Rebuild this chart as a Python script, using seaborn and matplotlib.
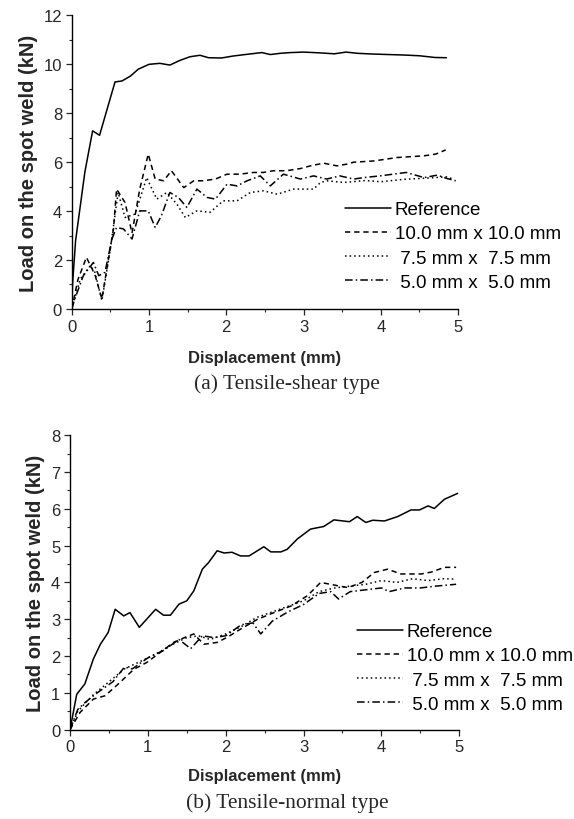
import numpy as np
import pandas as pd
import matplotlib
matplotlib.use("Agg")
import matplotlib.pyplot as plt
import seaborn as sns
from matplotlib.ticker import MultipleLocator

# ---------------- data: (a) tensile-shear ----------------
a_ref_x = [0, 0.01, 0.05, 0.11, 0.17, 0.27, 0.36, 0.56, 0.65, 0.76, 0.86, 1.0, 1.14, 1.27, 1.40, 1.53,
           1.66, 1.77, 1.94, 2.09, 2.27, 2.46, 2.57, 2.70, 2.83, 3.0, 3.2, 3.4, 3.55, 3.7, 3.9, 4.1,
           4.3, 4.5, 4.7, 4.85]
a_ref_y = [0, 1.0, 2.8, 4.2, 5.6, 7.28, 7.1, 9.28, 9.32, 9.52, 9.8, 10.0, 10.04, 9.97, 10.16, 10.31,
           10.37, 10.27, 10.26, 10.34, 10.41, 10.48, 10.4, 10.45, 10.48, 10.5, 10.47, 10.43, 10.5, 10.45,
           10.42, 10.4, 10.38, 10.35, 10.28, 10.27]

a_10_x = [0, 0.08, 0.19, 0.3, 0.39, 0.54, 0.58, 0.69, 0.78, 0.88, 0.99, 1.08, 1.19, 1.29, 1.45, 1.58,
          1.70, 1.86, 2.01, 2.18, 2.35, 2.48, 2.61, 2.78, 2.96, 3.09, 3.26, 3.43, 3.56, 3.65, 3.91,
          4.21, 4.56, 4.71, 4.84]
a_10_y = [0, 1.2, 2.11, 1.4, 0.41, 3.27, 4.9, 4.35, 3.1, 4.9, 6.33, 5.31, 5.24, 5.65, 4.96, 5.24,
          5.24, 5.31, 5.51, 5.51, 5.58, 5.58, 5.65, 5.65, 5.74, 5.85, 5.96, 5.85, 5.92, 6.0, 6.05,
          6.19, 6.26, 6.33, 6.5]

a_75_x = [0, 0.11, 0.24, 0.30, 0.39, 0.50, 0.60, 0.69, 0.82, 0.97, 1.10, 1.23, 1.36, 1.47, 1.62,
          1.79, 1.96, 2.14, 2.31, 2.48, 2.66, 2.87, 3.13, 3.22, 3.30, 3.52, 3.8, 4.0, 4.3, 4.6,
          4.85, 4.95]
a_75_y = [0, 1.22, 1.77, 1.50, 0.34, 2.45, 4.76, 3.74, 3.88, 5.37, 4.49, 4.76, 4.29, 3.74, 4.01,
          3.95, 4.42, 4.42, 4.76, 4.83, 4.69, 4.9, 4.9, 5.17, 5.24, 5.17, 5.25, 5.2, 5.3, 5.35,
          5.4, 5.3]

a_5_x = [0, 0.04, 0.15, 0.28, 0.35, 0.43, 0.52, 0.58, 0.67, 0.78, 0.88, 0.99, 1.08, 1.16, 1.27,
         1.38, 1.49, 1.62, 1.75, 1.86, 2.01, 2.14, 2.27, 2.44, 2.57, 2.74, 2.96, 3.13, 3.30, 3.47,
         3.65, 3.78, 3.99, 4.33, 4.56, 4.73, 4.86, 4.97]
a_5_y = [0, 0.41, 1.36, 1.9, 1.36, 1.5, 2.86, 3.33, 3.27, 2.86, 4.01, 4.01, 3.33, 3.81, 4.76,
         4.56, 4.15, 4.9, 4.56, 4.49, 5.1, 5.03, 5.24, 5.44, 5.03, 5.51, 5.31, 5.44, 5.31, 5.44,
         5.31, 5.37, 5.44, 5.58, 5.37, 5.47, 5.33, 5.24]

# ---------------- data: (b) tensile-normal ----------------
b_ref_x = [0, 0.086, 0.19, 0.30, 0.39, 0.49, 0.58, 0.69, 0.77, 0.89, 1.10, 1.20, 1.29, 1.40, 1.50,
           1.59, 1.70, 1.78, 1.89, 1.98, 2.08, 2.19, 2.30, 2.49, 2.58, 2.71, 2.79, 2.92, 3.09, 3.26,
           3.39, 3.59, 3.69, 3.80, 3.89, 4.04, 4.21, 4.38, 4.49, 4.60, 4.68, 4.81, 4.98]
b_ref_y = [0, 0.96, 1.24, 1.92, 2.32, 2.64, 3.27, 3.09, 3.18, 2.78, 3.27, 3.11, 3.11, 3.41, 3.50,
           3.77, 4.36, 4.54, 4.86, 4.80, 4.82, 4.72, 4.72, 4.97, 4.83, 4.83, 4.9, 5.18, 5.45, 5.52,
           5.70, 5.65, 5.79, 5.63, 5.69, 5.67, 5.79, 5.97, 5.97, 6.08, 6.01, 6.26, 6.42]

b_10_x = [0, 0.13, 0.30, 0.45, 0.62, 0.82, 0.99, 1.16, 1.33, 1.48, 1.59, 1.72, 1.89, 2.02, 2.19,
          2.41, 2.62, 2.84, 3.05, 3.22, 3.44, 3.57, 3.75, 3.91, 4.08, 4.25, 4.51, 4.64, 4.81, 4.96]
b_10_y = [0, 0.47, 0.83, 0.92, 1.24, 1.64, 1.83, 2.10, 2.37, 2.51, 2.60, 2.32, 2.37, 2.51, 2.73,
          3.0, 3.18, 3.36, 3.64, 4.0, 3.91, 3.86, 4.0, 4.27, 4.36, 4.23, 4.23, 4.28, 4.41, 4.41]

b_75_x = [0, 0.1, 0.3, 0.5, 0.7, 0.9, 1.1, 1.3, 1.5, 1.65, 1.8, 2.0, 2.2, 2.4, 2.6, 2.8, 3.0,
          3.2, 3.4, 3.6, 3.8, 4.0, 4.2, 4.4, 4.6, 4.8, 4.96]
b_75_y = [0, 0.5, 0.95, 1.3, 1.65, 1.85, 2.05, 2.3, 2.5, 2.55, 2.45, 2.6, 2.8, 3.05, 3.2, 3.35, 3.5,
          3.75, 3.85, 3.9, 3.95, 4.05, 4.0, 4.1, 4.05, 4.1, 4.09]

b_5_x = [0, 0.1, 0.2, 0.35, 0.55, 0.7, 0.8, 1.0, 1.2, 1.4, 1.55, 1.7, 1.85, 2.0, 2.2, 2.35, 2.45,
         2.6, 2.8, 3.0, 3.2, 3.35, 3.45, 3.6, 3.8, 4.0, 4.1, 4.3, 4.5, 4.7, 4.96]
b_5_y = [0, 0.55, 0.75, 1.0, 1.3, 1.7, 1.65, 1.95, 2.15, 2.45, 2.2, 2.55, 2.5, 2.55, 2.85, 2.9, 2.6,
         2.95, 3.2, 3.4, 3.7, 3.75, 3.55, 3.75, 3.8, 3.85, 3.75, 3.85, 3.85, 3.9, 3.95]

labels = ["Reference", "10.0 mm x 10.0 mm", " 7.5 mm x  7.5 mm", " 5.0 mm x  5.0 mm"]
captions = ["(a) Tensile-shear type", "(b) Tensile-normal type"]
xlabel = "Displacement (mm)"
ylabel = "Load on the spot weld (kN)"

styles = [dict(linestyle="-"),
          dict(linestyle=(0, (3.5, 2.5))),
          dict(linestyle=(0, (1, 2))),
          dict(linestyle=(0, (5, 2, 1, 2)))]

sns.set_style("ticks")
plt.rcParams["font.family"] = ["Liberation Sans", "DejaVu Sans"]

fig = plt.figure(figsize=(5.74, 8.2), dpi=100)
ax1 = fig.add_axes([0.125, 0.622, 0.673, 0.358])
ax2 = fig.add_axes([0.122, 0.109, 0.678, 0.359])

panels = [
    (ax1, [(a_ref_x, a_ref_y), (a_10_x, a_10_y), (a_75_x, a_75_y), (a_5_x, a_5_y)], 12, 2, 1),
    (ax2, [(b_ref_x, b_ref_y), (b_10_x, b_10_y), (b_75_x, b_75_y), (b_5_x, b_5_y)], 8, 1, 0.5),
]
legend_pos = [(0.601, 1 - 202 / 820), (0.622, 1 - 624 / 820)]
cap_y = [1 - 384 / 820, 1 - 803 / 820]
xlabpad = [12, 10]

for i, (ax, series, ymax, ymaj, ymin) in enumerate(panels):
    for (xs, ys), lab, st in zip(series, labels, styles):
        df = pd.DataFrame({"x": xs, "y": ys})
        sns.lineplot(data=df, x="x", y="y", ax=ax, color="black", lw=1.1, sort=False,
                     estimator=None, label=lab, **st)
    ax.set_xlim(0, 5)
    ax.set_ylim(0, ymax)
    ax.xaxis.set_major_locator(MultipleLocator(1))
    ax.xaxis.set_minor_locator(MultipleLocator(0.5))
    ax.yaxis.set_major_locator(MultipleLocator(ymaj))
    ax.yaxis.set_minor_locator(MultipleLocator(ymin))
    ax.tick_params(which="major", direction="out", length=4, width=0.9, labelsize=12, pad=3)
    ax.tick_params(which="minor", direction="out", length=2.5, width=0.8)
    for s in ["top", "right"]:
        ax.spines[s].set_visible(False)
    for s in ["left", "bottom"]:
        ax.spines[s].set_linewidth(1.0)
        ax.spines[s].set_color("black")
    ax.set_xlabel(xlabel, fontsize=12, fontweight="bold", labelpad=xlabpad[i])
    ax.set_ylabel(ylabel, fontsize=14.5, fontweight="bold", labelpad=4)
    ax.set_facecolor("white")
    leg = ax.legend(loc="upper left", bbox_to_anchor=legend_pos[i], bbox_transform=fig.transFigure,
                    frameon=False, fontsize=13.5, handlelength=2.45, handletextpad=0.2,
                    labelspacing=0.38, borderpad=0, borderaxespad=0)
    for t in leg.get_texts():
        t.set_color("black")
    fig.text(0.5, cap_y[i], captions[i], ha="center", va="center",
             family=["Liberation Serif", "DejaVu Serif"], fontsize=15.5)

fig.savefig("out.png", dpi=100, facecolor="white")
